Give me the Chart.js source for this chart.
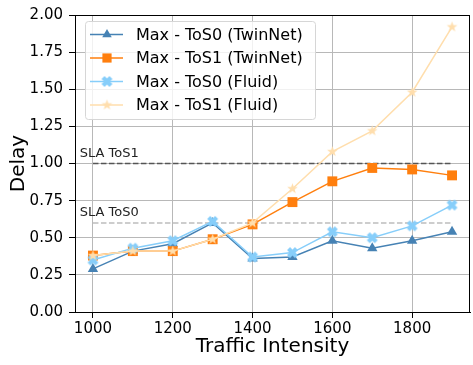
<!DOCTYPE html>
<html>
<head>
<meta charset="utf-8">
<script src="https://cdn.jsdelivr.net/npm/chart.js@4/dist/chart.umd.min.js"></script>
<style>
  html, body { margin: 0; padding: 0; background: #ffffff; }
  #wrap { width: 473px; height: 365px; overflow: hidden; position: relative; }
  canvas { display: block; }
</style>
</head>
<body>
<div id="wrap"><canvas id="c" width="477" height="365"></canvas></div>
<script>
// Traffic intensity levels (x) and maximum delay per traffic class
const intensity   = [1000, 1100, 1200, 1300, 1400, 1500, 1600, 1700, 1800, 1900];
const tos0TwinNet = [0.29, 0.41, 0.46, 0.60, 0.36, 0.37, 0.48, 0.43, 0.48, 0.54];
const tos1TwinNet = [0.38, 0.41, 0.41, 0.49, 0.59, 0.74, 0.88, 0.97, 0.96, 0.92];
const tos0Fluid   = [0.35, 0.43, 0.48, 0.61, 0.37, 0.40, 0.54, 0.50, 0.58, 0.72];
const tos1Fluid   = [0.38, 0.41, 0.41, 0.49, 0.60, 0.83, 1.08, 1.22, 1.48, 1.92];

// Service level agreements per class
const slaTos0 = 0.6;
const slaTos1 = 1.0;
const slaSpan = [1000, 1900];

const seriesNames = ['Max - ToS0 (TwinNet)', 'Max - ToS1 (TwinNet)', 'Max - ToS0 (Fluid)', 'Max - ToS1 (Fluid)'];
const xTicks = [1000, 1200, 1400, 1600, 1800];
const yTicks = [0, 0.25, 0.5, 0.75, 1.0, 1.25, 1.5, 1.75, 2.0];

const FONT = "'DejaVu Sans', sans-serif";
const C_BLUE = '#4682b4', C_ORANGE = '#ff7f0e', C_LBLUE = '#87cefa', C_LORANGE = '#ffdead';
const C_GRID = '#b8b8b8';

// Filled marker glyphs used as point styles
function markerCanvas(size, draw) {
  const cv = document.createElement('canvas');
  cv.width = size; cv.height = size;
  const g = cv.getContext('2d');
  g.translate(size / 2, size / 2);
  draw(g);
  return cv;
}
function filledX(color) {
  return markerCanvas(13, g => {
    const r = 5.6, w = 2.1;
    g.rotate(Math.PI / 4);
    g.beginPath();
    g.moveTo(-w, -r); g.lineTo(w, -r); g.lineTo(w, -w); g.lineTo(r, -w);
    g.lineTo(r, w); g.lineTo(w, w); g.lineTo(w, r); g.lineTo(-w, r);
    g.lineTo(-w, w); g.lineTo(-r, w); g.lineTo(-r, -w); g.lineTo(-w, -w);
    g.closePath();
    g.fillStyle = color; g.fill();
  });
}
function filledStar(color) {
  return markerCanvas(13, g => {
    const ro = 5.6, ri = 2.3;
    g.beginPath();
    for (let i = 0; i < 10; i++) {
      const r = i % 2 === 0 ? ro : ri;
      const a = -Math.PI / 2 + i * Math.PI / 5;
      const px = r * Math.cos(a), py = r * Math.sin(a);
      if (i === 0) g.moveTo(px, py); else g.lineTo(px, py);
    }
    g.closePath();
    g.fillStyle = color; g.fill();
  });
}
const xMarker = filledX(C_LBLUE);
const starMarker = filledStar(C_LORANGE);

function pts(ys) { return intensity.map((x, i) => ({ x: x, y: ys[i] })); }
function flat(v) { return slaSpan.map(x => ({ x: x, y: v })); }

const datasets = [
  { label: seriesNames[0], data: pts(tos0TwinNet), borderColor: C_BLUE, backgroundColor: C_BLUE,
    pointStyle: 'triangle', pointRadius: 6, borderWidth: 1.5, pointBorderWidth: 0, order: 4 },
  { label: seriesNames[1], data: pts(tos1TwinNet), borderColor: C_ORANGE, backgroundColor: C_ORANGE,
    pointStyle: 'rect', pointRadius: 7, borderWidth: 1.5, pointBorderWidth: 0, order: 3 },
  { label: seriesNames[2], data: pts(tos0Fluid), borderColor: C_LBLUE, backgroundColor: C_LBLUE,
    pointStyle: xMarker, borderWidth: 1.5, order: 2 },
  { label: seriesNames[3], data: pts(tos1Fluid), borderColor: C_LORANGE, backgroundColor: C_LORANGE,
    pointStyle: starMarker, borderWidth: 1.5, order: 1 },
  { label: 'SLA ToS1', data: flat(slaTos1), borderColor: '#555555', borderDash: [5.5, 2.5],
    borderWidth: 1.5, pointRadius: 0, order: 6 },
  { label: 'SLA ToS0', data: flat(slaTos0), borderColor: '#bdbdbd', borderDash: [5.5, 2.5],
    borderWidth: 1.5, pointRadius: 0, order: 6 }
];

// Frame on top, SLA captions and the boxed legend
const decorations = {
  id: 'decorations',
  afterDatasetsDraw(chart) {
    const ctx = chart.ctx, a = chart.chartArea;
    const xs = chart.scales.x, ys = chart.scales.y;
    ctx.save();
    // top and right spines
    ctx.strokeStyle = '#000'; ctx.lineWidth = 1;
    ctx.beginPath(); ctx.moveTo(a.left, Math.round(a.top) + 0.5); ctx.lineTo(a.right, Math.round(a.top) + 0.5); ctx.stroke();
    ctx.beginPath(); ctx.moveTo(Math.round(a.right) - 0.5, a.top); ctx.lineTo(Math.round(a.right) - 0.5, a.bottom); ctx.stroke();

    // SLA captions
    ctx.fillStyle = '#222';
    ctx.font = '13px ' + FONT;
    ctx.textAlign = 'left'; ctx.textBaseline = 'alphabetic';
    ctx.fillText('SLA ToS1', xs.getPixelForValue(967), ys.getPixelForValue(slaTos1 + 0.045));
    ctx.fillText('SLA ToS0', xs.getPixelForValue(967), ys.getPixelForValue(slaTos0 + 0.045));

    // legend
    const bx = 85.5, by = 21.5, bw = 230, bh = 98;
    ctx.beginPath();
    if (ctx.roundRect) ctx.roundRect(bx, by, bw, bh, 3); else ctx.rect(bx, by, bw, bh);
    ctx.fillStyle = 'rgba(255,255,255,0.8)'; ctx.fill();
    ctx.strokeStyle = '#d6d6d6'; ctx.lineWidth = 1; ctx.stroke();
    const rowY = [34.5, 58, 81.5, 105];
    for (let i = 0; i < 4; i++) {
      const ds = chart.data.datasets[i];
      const y = rowY[i];
      ctx.strokeStyle = ds.borderColor; ctx.lineWidth = 1.5;
      ctx.beginPath(); ctx.moveTo(90, y); ctx.lineTo(123, y); ctx.stroke();
      ctx.fillStyle = ds.backgroundColor;
      const r = typeof ds.pointStyle === 'string' ? ds.pointRadius - 0.5 : 3;
      Chart.helpers.drawPoint(ctx, { pointStyle: ds.pointStyle, radius: r, borderWidth: 0, rotation: 0 }, 107, y);
      ctx.fillStyle = '#000';
      ctx.font = '16px ' + FONT;
      ctx.textBaseline = 'middle';
      ctx.fillText(ds.label, 136, y + 1);
    }
    ctx.restore();
  }
};

new Chart(document.getElementById('c'), {
  type: 'line',
  data: { datasets: datasets },
  options: {
    responsive: false,
    animation: false,
    layout: { padding: { top: 14, right: 2, left: 0, bottom: 0 } },
    plugins: { legend: { display: false }, tooltip: { enabled: false } },
    elements: { line: { tension: 0 } },
    scales: {
      x: {
        type: 'linear', min: 955, max: 1945,
        afterBuildTicks: s => { s.ticks = xTicks.map(v => ({ value: v })); },
        afterFit: s => { s.height = 53; },
        grid: { color: C_GRID, lineWidth: 1, tickColor: '#000', tickLength: 6, drawTicks: true },
        border: { color: '#000', width: 1 },
        ticks: { color: '#000', font: { family: FONT, size: 15 }, padding: 2, maxRotation: 0,
                 callback: v => String(v) },
        title: { display: true, text: 'Traffic Intensity', color: '#000',
                 font: { family: FONT, size: 20 }, padding: { top: 0, bottom: 6 } }
      },
      y: {
        type: 'linear', min: 0, max: 2,
        afterBuildTicks: s => { s.ticks = yTicks.map(v => ({ value: v })); },
        afterFit: s => { s.width = 75; },
        grid: { color: C_GRID, lineWidth: 1, tickColor: '#000', tickLength: 6, drawTicks: true },
        border: { color: '#000', width: 1 },
        ticks: { color: '#000', font: { family: FONT, size: 15 }, padding: 6,
                 callback: v => Number(v).toFixed(2) },
        title: { display: true, text: 'Delay', color: '#000',
                 font: { family: FONT, size: 20 }, padding: { top: 7, bottom: 0 } }
      }
    }
  },
  plugins: [decorations]
});
</script>
</body>
</html>
